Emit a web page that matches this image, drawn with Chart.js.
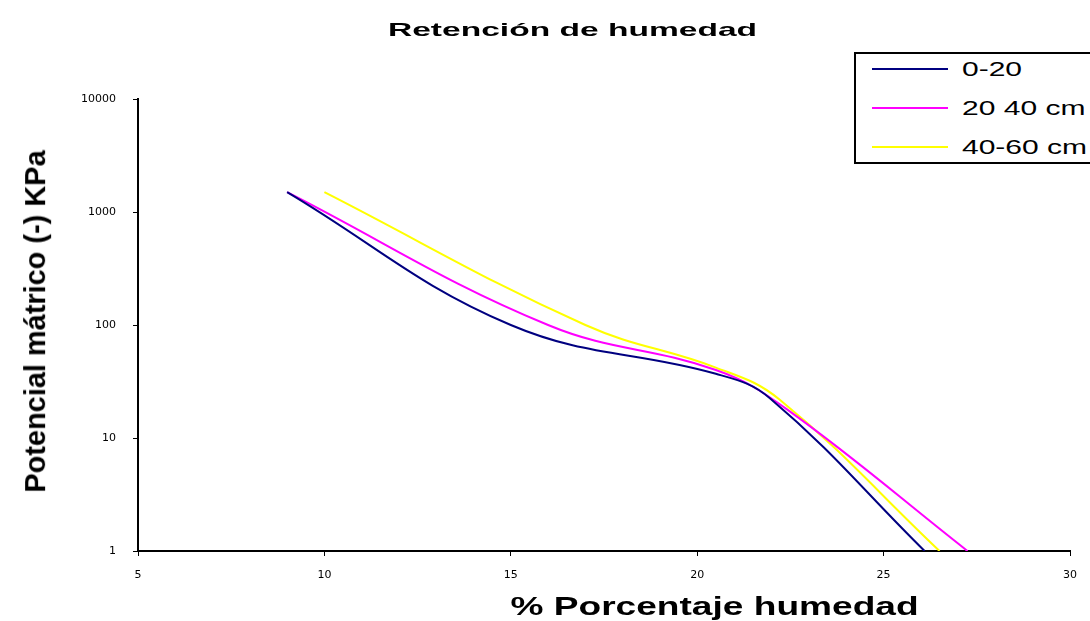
<!DOCTYPE html>
<html>
<head>
<meta charset="utf-8">
<script src="https://cdn.jsdelivr.net/npm/chart.js@4"></script>
<style>
  body { margin: 0; background: #fff; }
  #wrap { position: relative; width: 1090px; height: 621px; overflow: hidden;
          font-family: "Liberation Sans", Arial, sans-serif; color: #000; }
  #chart { position: absolute; left: 0; top: 0; }
  .txt { position: absolute; white-space: nowrap; line-height: 1; }
  #legend { position: absolute; left: 854px; top: 52px; width: 260px; height: 112px;
            border: 2px solid #000; background: #fff; box-sizing: border-box; }
  .swatch { position: absolute; left: 16px; width: 76px; height: 2px; }
</style>
</head>
<body>
<div id="wrap">
  <canvas id="chart" width="1090" height="621"></canvas>
  <div id="title" class="txt" style="font-weight:bold;font-size:19px;">Retención de humedad</div>
  <div id="xtitle" class="txt" style="font-weight:bold;font-size:25px;">% Porcentaje humedad</div>
  <div id="ytitle" class="txt" style="font-weight:bold;font-size:29px;">Potencial mátrico (-) KPa</div>
  <div id="legend"></div>
</div>
<script>
// % humedad (x) y potencial mátrico en kPa (y) por profundidad
const seriesNames  = ['0-20', '20 40 cm', '40-60 cm'];
const seriesColors = ['#000080', '#ff00ff', '#ffff00'];

const moisture0_20   = [9, 15, 20.5, 21.95, 26.1];
const potential0_20  = [1500, 100, 37, 22.5, 1];
const moisture20_40  = [9, 16, 20.5, 22.4, 27.25];
const potential20_40 = [1500, 100, 40, 18, 1];
const moisture40_60  = [10, 17, 20.5, 22.2, 26.5];
const potential40_60 = [1500, 100, 42, 22, 1];

const xTicks = [5, 10, 15, 20, 25, 30];
const yTicks = [1, 10, 100, 1000, 10000];

const xs = [moisture0_20, moisture20_40, moisture40_60];
const ys = [potential0_20, potential20_40, potential40_60];

const datasets = seriesNames.map((name, i) => ({
  label: name,
  data: xs[i].map((x, j) => ({ x, y: ys[i][j] })),
  borderColor: seriesColors[i],
  backgroundColor: seriesColors[i],
  borderWidth: 2,
  pointRadius: 0,
  showLine: true,
  tension: 0.4,
}));

const tickFont = { family: 'DejaVu Sans', size: 11 };

new Chart(document.getElementById('chart'), {
  type: 'scatter',
  data: { datasets },
  options: {
    responsive: false,
    animation: false,
    layout: { padding: { top: 99, right: 14, left: 0, bottom: 0 } },
    scales: {
      x: {
        type: 'linear',
        min: xTicks[0],
        max: xTicks[xTicks.length - 1],
        afterBuildTicks: s => { s.ticks = xTicks.map(v => ({ value: v })); },
        afterFit: s => { s.height = 70; },
        ticks: { color: '#000', font: tickFont, padding: 13, maxRotation: 0,
                 callback: v => String(v) },
        grid: { drawOnChartArea: false, tickLength: 5, color: '#000' },
        border: { color: '#000', width: 2 },
      },
      y: {
        type: 'logarithmic',
        min: yTicks[0],
        max: yTicks[yTicks.length - 1],
        afterBuildTicks: s => { s.ticks = yTicks.map(v => ({ value: v })); },
        afterFit: s => { s.width = 138; },
        ticks: { color: '#000', font: tickFont, padding: 17,
                 callback: v => String(v) },
        grid: { drawOnChartArea: false, tickLength: 5, color: '#000' },
        border: { color: '#000', width: 2 },
      },
    },
    plugins: {
      legend: { display: false },
      title: { display: false },
      tooltip: { enabled: false },
    },
  },
});

// text overlays, stretched to the widths seen in the original
function place(id, cx, cy, targetW, rotate) {
  const el = document.getElementById(id);
  const w = el.offsetWidth, h = el.offsetHeight;
  const s = targetW / w;
  el.style.left = (cx - w / 2) + 'px';
  el.style.top = (cy - h / 2) + 'px';
  el.style.transformOrigin = 'center center';
  el.style.transform = (rotate ? 'rotate(-90deg) ' : '') + `scaleX(${s})`;
}
place('title', 572, 29, 369, false);
place('xtitle', 714, 606, 408, false);
place('ytitle', 35, 321, 342, true);

const legend = document.getElementById('legend');
const rowY = [14, 53, 92];
seriesNames.forEach((name, i) => {
  const sw = document.createElement('div');
  sw.className = 'swatch';
  sw.style.top = rowY[i] + 'px';
  sw.style.background = seriesColors[i];
  legend.appendChild(sw);
  const t = document.createElement('div');
  t.className = 'txt';
  t.textContent = name;
  t.style.fontSize = '20px';
  t.style.left = '106px';
  t.style.top = (rowY[i] - 9) + 'px';
  t.style.transformOrigin = 'left center';
  t.style.transform = 'scaleX(1.5)';
  legend.appendChild(t);
});
</script>
</body>
</html>
